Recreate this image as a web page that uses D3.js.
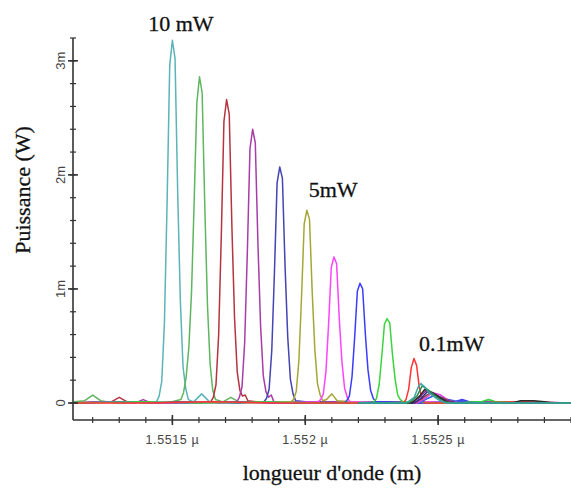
<!DOCTYPE html>
<html><head><meta charset="utf-8">
<script src="https://cdn.jsdelivr.net/npm/d3@7"></script>
<style>html,body{margin:0;padding:0;background:#fff;} svg{display:block;}</style>
</head><body><svg id="chart" width="571" height="490"></svg>
<script>
// ---- DATA (wavelength in µm, power in mW) ----
const xDomain = [1.551126, 1.553];
const yDomain = [-0.149, 3.2];
const xMajorTicks = [1.5515, 1.552, 1.5525];
const xTickLabels = ["1.5515 \u00b5", "1.552 \u00b5", "1.5525 \u00b5"];
const yMajorTicks = [0, 1, 2, 3];
const yTickLabels = ["0", "1m", "2m", "3m"];
const xLabel = "longueur d'onde (m)";
const yLabel = "Puissance (W)";
const annotationTexts = ["10 mW", "5mW", "0.1mW"];
const annotationX = [1.551409, 1.552013, 1.552428];
const annotationY = [3.26, 1.81, 0.456];

const spectrum01 = [[1.55113,0.01],[1.55118,0.00],[1.55124,0.01],[1.55131,0.00],[1.55137,0.01],[1.55142,0.00],
 [1.55144,0.01],[1.55145,0.06],[1.55146,0.19],[1.55147,0.70],[1.55148,1.75],[1.55149,2.96],[1.55150,3.18],[1.55151,3.02],[1.55152,1.84],[1.55153,0.89],[1.55154,0.32],[1.55155,0.13],[1.55156,0.03],
 [1.55158,0.01],[1.55161,0.08],[1.55164,0.01],[1.55172,0.00],[1.55185,0.01],[1.55198,0.00],[1.55212,0.01],[1.55226,0.00],[1.55240,0.01],[1.55255,0.00],[1.55268,0.01],[1.55282,0.00],[1.55300,0.00]];
const spectrum02 = [[1.55113,0.01],[1.55117,0.02],[1.55120,0.07],[1.55123,0.02],[1.55128,0.00],[1.55138,0.01],[1.55148,0.00],
 [1.551532,0.03],[1.551542,0.09],[1.551552,0.23],[1.551562,0.49],[1.551572,0.97],[1.551582,1.77],[1.551592,2.63],[1.551602,2.86],[1.551612,2.72],[1.551622,1.72],[1.551632,0.86],[1.551642,0.34],[1.551652,0.11],[1.551662,0.03],
 [1.55169,0.01],[1.55172,0.05],[1.55175,0.01],[1.55188,0.00],[1.55202,0.01],[1.55218,0.00],[1.55234,0.01],[1.55250,0.00],[1.55266,0.00],[1.55269,0.03],[1.55272,0.00],[1.55300,0.00]];
const spectrum03 = [[1.55113,0.00],[1.55122,0.01],[1.55127,0.01],[1.55130,0.05],[1.55133,0.01],[1.55142,0.00],[1.55152,0.01],[1.55160,0.00],
 [1.551644,0.01],[1.551654,0.05],[1.551664,0.16],[1.551674,0.59],[1.551684,1.46],[1.551694,2.47],[1.551704,2.66],[1.551714,2.53],[1.551724,1.54],[1.551734,0.74],[1.551744,0.27],[1.551754,0.11],[1.551764,0.06],[1.551774,0.07],[1.551784,0.02],
 [1.55186,0.00],[1.55200,0.01],[1.55215,0.00],[1.55230,0.01],[1.55245,0.00],[1.55262,0.01],[1.55280,0.00],[1.55300,0.00]];
const spectrum04 = [[1.55113,0.00],[1.55125,0.01],[1.55136,0.00],[1.55139,0.03],[1.55142,0.00],[1.55155,0.01],[1.55168,0.00],
 [1.551742,0.01],[1.551752,0.05],[1.551762,0.14],[1.551772,0.53],[1.551782,1.32],[1.551792,2.23],[1.551802,2.40],[1.551812,2.28],[1.551822,1.39],[1.551832,0.67],[1.551842,0.24],[1.551852,0.10],[1.551862,0.05],[1.551872,0.07],[1.551882,0.01],
 [1.55196,0.00],[1.55211,0.01],[1.55226,0.00],[1.55242,0.01],[1.55258,0.00],[1.55275,0.01],[1.55300,0.00]];
const spectrum05 = [[1.55113,0.00],[1.55128,0.01],[1.55144,0.00],[1.55160,0.01],[1.55175,0.00],
 [1.551844,0.01],[1.551854,0.04],[1.551864,0.12],[1.551874,0.46],[1.551884,1.14],[1.551894,1.93],[1.551904,2.07],[1.551914,1.97],[1.551924,1.20],[1.551934,0.58],[1.551944,0.21],[1.551954,0.08],[1.551964,0.02],
 [1.55200,0.01],[1.55215,0.00],[1.55230,0.01],[1.55245,0.00],[1.55256,0.00],[1.55259,0.02],[1.55262,0.00],[1.55280,0.01],[1.55300,0.00]];
const spectrum06 = [[1.55113,0.00],[1.55130,0.01],[1.55148,0.00],[1.55165,0.01],[1.55182,0.00],
 [1.551946,0.01],[1.551956,0.03],[1.551966,0.10],[1.551976,0.37],[1.551986,0.93],[1.551996,1.57],[1.552006,1.69],[1.552016,1.61],[1.552026,0.98],[1.552036,0.47],[1.552046,0.17],[1.552056,0.07],[1.552066,0.02],
 [1.55208,0.03],[1.55210,0.08],[1.55212,0.02],[1.55225,0.00],[1.55240,0.01],[1.55255,0.00],[1.55270,0.01],[1.55300,0.00]];
const spectrum07 = [[1.55113,0.00],[1.55132,0.01],[1.55150,0.00],[1.55170,0.01],[1.55190,0.00],
 [1.552048,0.01],[1.552058,0.03],[1.552068,0.08],[1.552078,0.28],[1.552088,0.70],[1.552098,1.19],[1.552108,1.28],[1.552118,1.22],[1.552128,0.74],[1.552138,0.36],[1.552148,0.13],[1.552158,0.05],[1.552168,0.01],
 [1.55230,0.00],[1.55245,0.01],[1.55260,0.00],[1.55280,0.01],[1.55300,0.00]];
const spectrum08 = [[1.55113,0.00],[1.55135,0.01],[1.55155,0.00],[1.55175,0.01],[1.55195,0.00],
 [1.552146,0.00],[1.552156,0.02],[1.552166,0.06],[1.552176,0.23],[1.552186,0.58],[1.552196,0.98],[1.552206,1.05],[1.552216,1.00],[1.552226,0.61],[1.552236,0.29],[1.552246,0.11],[1.552256,0.04],[1.552266,0.01],
 [1.55245,0.00],[1.55256,0.01],[1.55259,0.03],[1.55262,0.01],[1.55280,0.00],[1.55300,0.00]];
const spectrum09 = [[1.55113,0.00],[1.55138,0.01],[1.55160,0.00],[1.55182,0.01],[1.55205,0.00],
 [1.552248,0.00],[1.552258,0.01],[1.552268,0.04],[1.552278,0.16],[1.552288,0.41],[1.552298,0.69],[1.552308,0.74],[1.552318,0.70],[1.552328,0.43],[1.552338,0.21],[1.552348,0.07],[1.552358,0.03],[1.552368,0.01],
 [1.55250,0.00],[1.55266,0.01],[1.55269,0.03],[1.55272,0.01],[1.55300,0.00]];
const spectrum10 = [[1.55113,0.00],[1.55140,0.00],[1.55165,0.01],[1.55190,0.00],[1.55215,0.00],
 [1.552369,0.00],[1.552379,0.03],[1.552389,0.12],[1.552399,0.31],[1.552409,0.39],[1.552419,0.33],[1.552429,0.14],[1.552439,0.03],[1.552449,0.00],
 [1.55262,0.00],[1.55280,0.01],[1.55300,0.00]];
// weak spectra clustered near 1.55244 µm
const small01 = [[1.55220,0.00],[1.55243,0.00],[1.55246,0.04],[1.55249,0.07],[1.55252,0.04],[1.55256,0.02],[1.55259,0.01],[1.55262,0.00],[1.55300,0.00]];
const small02 = [[1.55220,0.00],[1.55242,0.00],[1.55245,0.04],[1.55248,0.09],[1.55251,0.07],[1.55254,0.02],[1.55258,0.00],[1.55300,0.00]];
const small03 = [[1.55220,0.00],[1.55241,0.00],[1.55244,0.04],[1.55247,0.09],[1.55250,0.06],[1.55254,0.02],[1.55257,0.00],[1.55300,0.00]];
const small04 = [[1.55220,0.00],[1.55241,0.00],[1.55244,0.05],[1.55246,0.10],[1.55249,0.07],[1.55253,0.02],[1.55257,0.00],[1.55300,0.00]];
const small05 = [[1.55220,0.00],[1.55240,0.00],[1.55243,0.05],[1.552455,0.11],[1.55249,0.07],[1.55252,0.03],[1.55256,0.00],[1.55300,0.00]];
const small06 = [[1.55220,0.00],[1.55240,0.00],[1.55243,0.06],[1.55245,0.12],[1.55248,0.09],[1.55251,0.04],[1.55254,0.00],[1.55278,0.00],[1.55281,0.02],[1.55286,0.02],[1.55290,0.01],[1.55293,0.00],[1.55300,0.00]];
const small07 = [[1.55220,0.00],[1.55239,0.00],[1.55242,0.06],[1.55244,0.15],[1.55246,0.12],[1.55249,0.06],[1.55252,0.01],[1.55255,0.00],[1.55300,0.00]];
const small08 = [[1.55220,0.00],[1.55238,0.00],[1.55241,0.05],[1.552425,0.14],[1.552435,0.17],[1.55245,0.14],[1.55247,0.08],[1.55250,0.03],[1.55253,0.00],[1.55270,0.00],[1.55300,0.00]];

const spectra = [spectrum01, spectrum02, spectrum03, spectrum04, spectrum05, spectrum06, spectrum07, spectrum08, spectrum09, spectrum10,
                 small01, small02, small03, small04, small05, small06, small07, small08];
const seriesColors = ["#5ab4b8", "#5fb65f", "#b3353f", "#a83ca8", "#4444b4", "#a6a636", "#ff44ff", "#3c3cff", "#3cd43c", "#ff3434",
                      "#3a5ae0", "#e040e0", "#8a4a2a", "#2a2a9a", "#8a2a8a", "#2a2a2a", "#2a8a4a", "#3aa6a6"];

// ---- DRAW ----
const svg = d3.select("#chart");
const plotLeft = 73, plotRight = 571, plotTop = 38, plotBottom = 420;
const x = d3.scaleLinear().domain(xDomain).range([plotLeft, plotRight]);
const y = d3.scaleLinear().domain(yDomain).range([plotBottom, plotTop]);

svg.append("rect").attr("width", 571).attr("height", 490).attr("fill", "#fff");

svg.append("defs").append("clipPath").attr("id", "plot")
  .append("rect").attr("x", plotLeft).attr("y", 0).attr("width", plotRight - plotLeft).attr("height", plotBottom);

const line = d3.line().x(d => x(d[0])).y(d => y(d[1]));
svg.append("g").attr("clip-path", "url(#plot)")
  .selectAll("path").data(spectra).join("path")
  .attr("d", line)
  .attr("fill", "none")
  .attr("stroke", (d, i) => seriesColors[i])
  .attr("stroke-width", 1.5)
  .attr("stroke-linejoin", "round");

const axisColor = "#333";
// y axis
const gy = svg.append("g");
gy.append("line").attr("x1", plotLeft).attr("x2", plotLeft).attr("y1", y(3.2)).attr("y2", plotBottom)
  .attr("stroke", axisColor).attr("stroke-width", 1.6);
const yMinor = d3.range(0, 17).map(i => +(i * 0.2).toFixed(2));
gy.selectAll("line.ymin").data(yMinor).join("line").attr("class", "ymin")
  .attr("x1", plotLeft - 3).attr("x2", plotLeft + 3).attr("y1", d => y(d)).attr("y2", d => y(d))
  .attr("stroke", axisColor).attr("stroke-width", 1.2);
gy.selectAll("line.ymaj").data(yMajorTicks).join("line").attr("class", "ymaj")
  .attr("x1", plotLeft - 5).attr("x2", plotLeft + 5).attr("y1", d => y(d)).attr("y2", d => y(d))
  .attr("stroke", axisColor).attr("stroke-width", 1.6);
gy.selectAll("text").data(yMajorTicks).join("text")
  .attr("transform", d => `translate(${plotLeft - 13},${y(d)}) rotate(-90)`)
  .attr("text-anchor", "middle").attr("dominant-baseline", "central")
  .attr("font-family", "Liberation Sans, Arial, sans-serif").attr("font-size", 13)
  .attr("fill", "#444")
  .text((d, i) => yTickLabels[i]);

// x axis
const gx = svg.append("g");
gx.append("line").attr("x1", plotLeft).attr("x2", plotRight).attr("y1", plotBottom).attr("y2", plotBottom)
  .attr("stroke", axisColor).attr("stroke-width", 1.6);
const xMinor = d3.range(1, 20).map(i => +(1.5511 + i * 0.0001).toFixed(4));
gx.selectAll("line.xmin").data(xMinor).join("line").attr("class", "xmin")
  .attr("x1", d => x(d)).attr("x2", d => x(d)).attr("y1", plotBottom - 3).attr("y2", plotBottom + 3)
  .attr("stroke", axisColor).attr("stroke-width", 1.2);
gx.selectAll("line.xmaj").data(xMajorTicks).join("line").attr("class", "xmaj")
  .attr("x1", d => x(d)).attr("x2", d => x(d)).attr("y1", plotBottom - 5).attr("y2", plotBottom + 5)
  .attr("stroke", axisColor).attr("stroke-width", 1.6);
gx.selectAll("text").data(xMajorTicks).join("text")
  .attr("x", d => x(d)).attr("y", plotBottom + 24)
  .attr("text-anchor", "middle")
  .attr("font-family", "Liberation Sans, Arial, sans-serif").attr("font-size", 12.5)
  .attr("letter-spacing", 0.6)
  .attr("fill", "#444")
  .text((d, i) => xTickLabels[i]);

// axis titles
const serif = "Liberation Serif, Times New Roman, serif";
svg.append("text").attr("x", 332).attr("y", 480).attr("text-anchor", "middle")
  .attr("font-family", serif).attr("font-size", 22)
  .attr("fill", "#111").attr("stroke", "#111").attr("stroke-width", 0.3).text(xLabel);
svg.append("text").attr("transform", "translate(30,190) rotate(-90)").attr("text-anchor", "middle")
  .attr("font-family", serif).attr("font-size", 22)
  .attr("fill", "#111").attr("stroke", "#111").attr("stroke-width", 0.3).text(yLabel);

// annotations
svg.append("g").selectAll("text").data(annotationTexts).join("text")
  .attr("x", (d, i) => x(annotationX[i])).attr("y", (d, i) => y(annotationY[i]))
  .attr("font-family", serif).attr("font-size", 22)
  .attr("fill", "#111").attr("stroke", "#111").attr("stroke-width", 0.3).text(d => d);
</script></body></html>
